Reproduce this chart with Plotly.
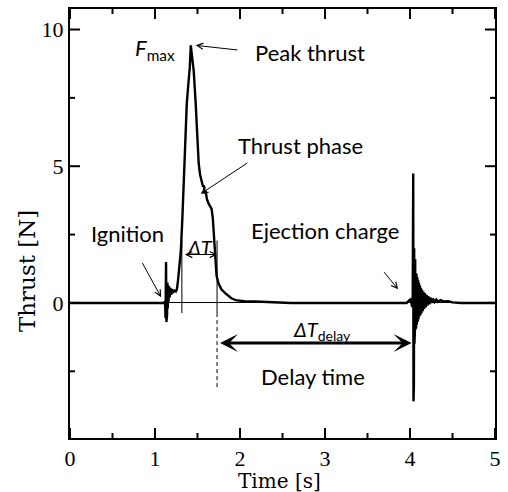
import plotly.graph_objects as go

# ---- data (time in s, thrust in N) ----
time_s = [0.0, 1.100, 1.118, 1.124, 1.130, 1.134, 1.138, 1.142, 1.146, 1.150,
          1.155, 1.160, 1.166, 1.172, 1.180, 1.190, 1.200, 1.215, 1.230, 1.245,
          1.258, 1.270, 1.281, 1.293, 1.304, 1.322, 1.339, 1.356, 1.374, 1.392,
          1.409, 1.421, 1.438, 1.456, 1.479, 1.500, 1.514, 1.530, 1.549, 1.565,
          1.575, 1.585, 1.596, 1.610, 1.631, 1.650, 1.666, 1.680, 1.690, 1.700,
          1.712, 1.724, 1.747, 1.780, 1.829, 1.898, 1.950, 2.050, 2.180, 2.300,
          2.450, 2.600, 3.960, 3.990, 4.010, 4.025, 4.032, 4.038, 4.041, 4.043,
          4.046, 4.049, 4.052, 4.055, 4.058, 4.061, 4.064, 4.068, 4.072, 4.076,
          4.080, 4.085, 4.090, 4.095, 4.100, 4.105, 4.110, 4.116, 4.122, 4.128,
          4.135, 4.142, 4.150, 4.158, 4.166, 4.175, 4.185, 4.195, 4.205, 4.215,
          4.228, 4.240, 4.255, 4.270, 4.290, 4.310, 4.330, 4.360, 4.400, 4.450,
          4.500, 4.600, 5.000]
thrust_N = [0.0, 0.0, 0.05, -0.55, 1.5, -0.7, 0.9, -0.45, 0.75, -0.2,
            0.65, 0.05, 0.6, 0.2, 0.55, 0.3, 0.5, 0.4, 0.45, 0.42,
            0.5, 0.8, 1.2, 1.5, 1.9, 3.1, 4.5, 6.0, 7.3, 8.0,
            8.6, 9.42, 9.0, 8.47, 7.27, 5.8, 5.1, 4.7, 4.4, 4.25,
            4.3, 4.0, 4.1, 3.8, 3.63, 3.5, 3.44, 3.1, 2.6, 1.95,
            1.3, 1.0, 0.72, 0.5, 0.35, 0.17, 0.1, 0.06, 0.05, 0.03,
            0.02, 0.0, 0.0, 0.08, 0.15, -0.15, 0.25, 4.73, -3.6, 3.1,
            -3.0, 2.0, -1.5, 1.9, -1.0, 1.6, -0.95, 1.3, -0.9, 1.08,
            -0.8, 0.95, -0.7, 0.85, -0.6, 0.75, -0.5, 0.65, -0.45, 0.55,
            -0.38, 0.48, -0.3, 0.42, -0.22, 0.36, -0.16, 0.3, -0.1, 0.25,
            -0.05, 0.2, 0.0, 0.16, 0.03, 0.12, 0.04, 0.1, 0.05, 0.06,
            0.02, 0.0, 0.0]

x_ticks = [0, 1, 2, 3, 4, 5]
x_minor_ticks = [0.5, 1.5, 2.5, 3.5, 4.5]
y_ticks = [0, 5, 10]
y_minor_ticks = [-2.5, 2.5, 7.5]

X_RANGE = [0, 5]
Y_RANGE = [-4.94, 10.75]

# key times / levels used for the annotation marks
t_burn_start = 1.316
t_burn_end = 1.73
t_eject = 4.018

LABEL_FONT = dict(family="Lato", size=22, color="black")
SYM_FONT = dict(family="Lato", size=20, color="black")
AX_FONT = dict(family="DejaVu Serif", size=20, color="black")
YT_FONT = dict(family="DejaVu Serif", size=23, color="black")
TICK_FONT = dict(family="Liberation Serif", size=22, color="black")

fig = go.Figure()
fig.add_trace(go.Scatter(x=time_s, y=thrust_N, mode="lines",
                         line=dict(color="black", width=2.4),
                         hoverinfo="skip", showlegend=False))

ann = []
ann.append(dict(x=1.259, y=9.27, text="<i>F</i><sub>max</sub>", xanchor="right",
                yanchor="middle", showarrow=False, font=LABEL_FONT))
ann.append(dict(x=2.156, y=9.16, text="Peak thrust", xanchor="left",
                yanchor="middle", showarrow=False, font=LABEL_FONT))
ann.append(dict(x=1.958, y=5.74, text="Thrust phase", xanchor="left",
                yanchor="middle", showarrow=False, font=LABEL_FONT))
ann.append(dict(x=1.13, y=2.54, text="Ignition", xanchor="right",
                yanchor="middle", showarrow=False, font=LABEL_FONT))
ann.append(dict(x=2.995, y=2.65, text="Ejection charge", xanchor="center",
                yanchor="middle", showarrow=False, font=LABEL_FONT))
ann.append(dict(x=1.53, y=2.05, text="<i>ΔT</i>", xanchor="center",
                yanchor="middle", showarrow=False, font=SYM_FONT))
ann.append(dict(x=2.96, y=-1.0, text="<i>ΔT</i><sub>delay</sub>", xanchor="center",
                yanchor="middle", showarrow=False, font=SYM_FONT))
ann.append(dict(x=2.855, y=-2.70, text="Delay time", xanchor="center",
                yanchor="middle", showarrow=False, font=LABEL_FONT))

def pointer(x, y, ax, ay):
    return dict(x=x, y=y, ax=ax, ay=ay, xref="x", yref="y", axref="x", ayref="y",
                text=" ", showarrow=True, arrowhead=5, arrowsize=1.2,
                arrowwidth=1, arrowcolor="black", standoff=0)

ann.append(pointer(1.48, 9.42, 2.005, 9.24))
ann.append(pointer(1.538, 3.99, 2.121, 5.19))
ann.append(pointer(1.072, 0.21, 0.816, 1.66))
ann.append(pointer(3.86, 0.50, 3.66, 1.26))

ann.append(dict(x=t_burn_end, y=1.77, ax=t_burn_start, ay=1.77, xref="x", yref="y",
                axref="x", ayref="y", text=" ", showarrow=True, arrowside="end+start",
                arrowhead=5, startarrowhead=5, arrowsize=1.2, startarrowsize=1.2,
                arrowwidth=1, arrowcolor="black", standoff=0, startstandoff=0))
ann.append(dict(x=t_eject, y=-1.47, ax=t_burn_end, ay=-1.47, xref="x", yref="y",
                axref="x", ayref="y", text=" ", showarrow=True, arrowside="end+start",
                arrowhead=3, startarrowhead=3, arrowsize=1.0, startarrowsize=1.0,
                arrowwidth=3, arrowcolor="black", standoff=0, startstandoff=0))

ann.append(dict(x=0.492, y=-0.10, xref="paper", yref="paper", text="Time [s]",
                showarrow=False, xanchor="center", yanchor="middle", font=AX_FONT))
ann.append(dict(x=-0.1026, y=0.39, xref="paper", yref="paper", text="Thrust [N]",
                showarrow=False, xanchor="center", yanchor="middle", textangle=-90,
                font=YT_FONT))

shapes = [
    dict(type="line", x0=t_burn_start, x1=t_burn_start, y0=2.3, y1=-0.37,
         xref="x", yref="y", line=dict(color="black", width=1)),
    dict(type="line", x0=t_burn_end, x1=t_burn_end, y0=2.28, y1=-0.37,
         xref="x", yref="y", line=dict(color="black", width=1)),
    dict(type="line", x0=t_burn_end, x1=t_burn_end, y0=-0.37, y1=-3.18,
         xref="x", yref="y", line=dict(color="black", width=1, dash="4px,3px")),
]

# inward tick marks on all four sides (positioned by the axes' own scales)
TICK_LINE = dict(color="black", width=2)
for vals, length in ((x_ticks, 10), (x_minor_ticks, 5)):
    for v in vals:
        shapes.append(dict(type="line", xref="x", yref="paper", ysizemode="pixel",
                           yanchor=0, x0=v, x1=v, y0=0, y1=length, line=TICK_LINE))
        shapes.append(dict(type="line", xref="x", yref="paper", ysizemode="pixel",
                           yanchor=1, x0=v, x1=v, y0=0, y1=-length, line=TICK_LINE))
for vals, length in ((y_ticks, 10), (y_minor_ticks, 5)):
    for v in vals:
        shapes.append(dict(type="line", yref="y", xref="paper", xsizemode="pixel",
                           xanchor=0, y0=v, y1=v, x0=0, x1=length, line=TICK_LINE))
        shapes.append(dict(type="line", yref="y", xref="paper", xsizemode="pixel",
                           xanchor=1, y0=v, y1=v, x0=0, x1=-length, line=TICK_LINE))

axis_style = dict(showline=True, linecolor="black", linewidth=2, mirror=True,
                  ticks="", showgrid=False, tickfont=TICK_FONT)

fig.update_layout(
    width=508, height=492,
    margin=dict(l=70, r=9, t=7, b=54),
    paper_bgcolor="white", plot_bgcolor="white",
    annotations=ann, shapes=shapes,
    xaxis=dict(range=X_RANGE, tickmode="array", tickvals=x_ticks, zeroline=False,
               **axis_style),
    yaxis=dict(range=Y_RANGE, tickmode="array", tickvals=y_ticks, zeroline=True,
               zerolinecolor="black", zerolinewidth=1, **axis_style),
)

fig.write_html("out.html")
